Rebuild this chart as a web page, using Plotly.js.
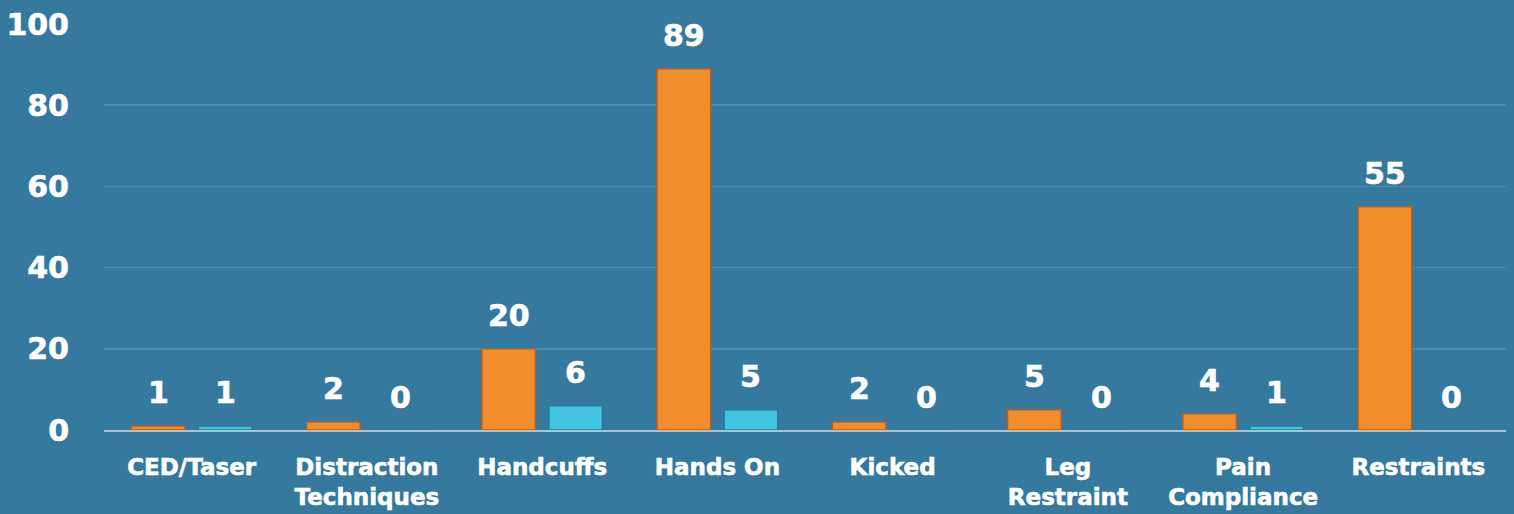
<!DOCTYPE html>
<html><head><meta charset="utf-8">
<script src="https://cdn.plot.ly/plotly-3.0.1.min.js"></script>
<style>html,body{margin:0;padding:0;background:#35799f;}#chart{width:1514px;height:514px;}
#chart text{stroke:#ffffff;stroke-width:0.6px;}</style>
</head><body><div id="chart"></div>
<script>
const categories = ["CED/Taser","Distraction<br>Techniques","Handcuffs","Hands On","Kicked","Leg<br>Restraint","Pain<br>Compliance","Restraints"];
const seriesA = [1,2,20,89,2,5,4,55];
const seriesB = [1,0,6,5,0,0,1,0];
const yTicks = [0,20,40,60,80,100];

const font = "DejaVu Sans, Arial, sans-serif";
const traces = [
  {type:"bar", x:categories, y:seriesA, name:"A",
   marker:{color:"#f08d2d", line:{color:"#b8601a", width:1.5}}},
  {type:"bar", x:categories, y:seriesB, name:"B",
   marker:{color:"#42c3e0", line:{color:"#1f7e98", width:1.5}}}
];
const annotations = [];
categories.forEach((c,i)=>{
  [[seriesA[i],-33.5],[seriesB[i],33.5]].forEach(([v,dx])=>{
    annotations.push({x:c, y:v, xref:"x", yref:"y", text:String(v), showarrow:false,
      xshift:dx, yshift:33, yanchor:"middle", xanchor:"center",
      font:{family:font, size:30, color:"#ffffff", weight:"bold"}});
  });
});
const layout = {
  width:1514, height:514,
  paper_bgcolor:"#35799f", plot_bgcolor:"#35799f",
  margin:{l:104, r:8, t:24, b:84},
  barmode:"group", bargap:0.235, bargroupgap:0.2,
  showlegend:false,
  xaxis:{tickfont:{family:font, size:23, color:"#ffffff", weight:"bold"},
         showline:true, linecolor:"#a9c3d4", linewidth:2, ticks:"", showgrid:false,
         ticklabelstandoff:15, fixedrange:true},
  yaxis:{range:[0,100], tickvals:yTicks, ticktext:yTicks.map(String),
         tickfont:{family:font, size:30, color:"#ffffff", weight:"bold"},
         showgrid:true, gridcolor:"#4d8ab0", gridwidth:1.5, zeroline:false,
         ticklabelstandoff:34, ticks:"", fixedrange:true},
  annotations: annotations
};
Plotly.newPlot("chart", traces, layout, {displayModeBar:false, staticPlot:true});
</script></body></html>
